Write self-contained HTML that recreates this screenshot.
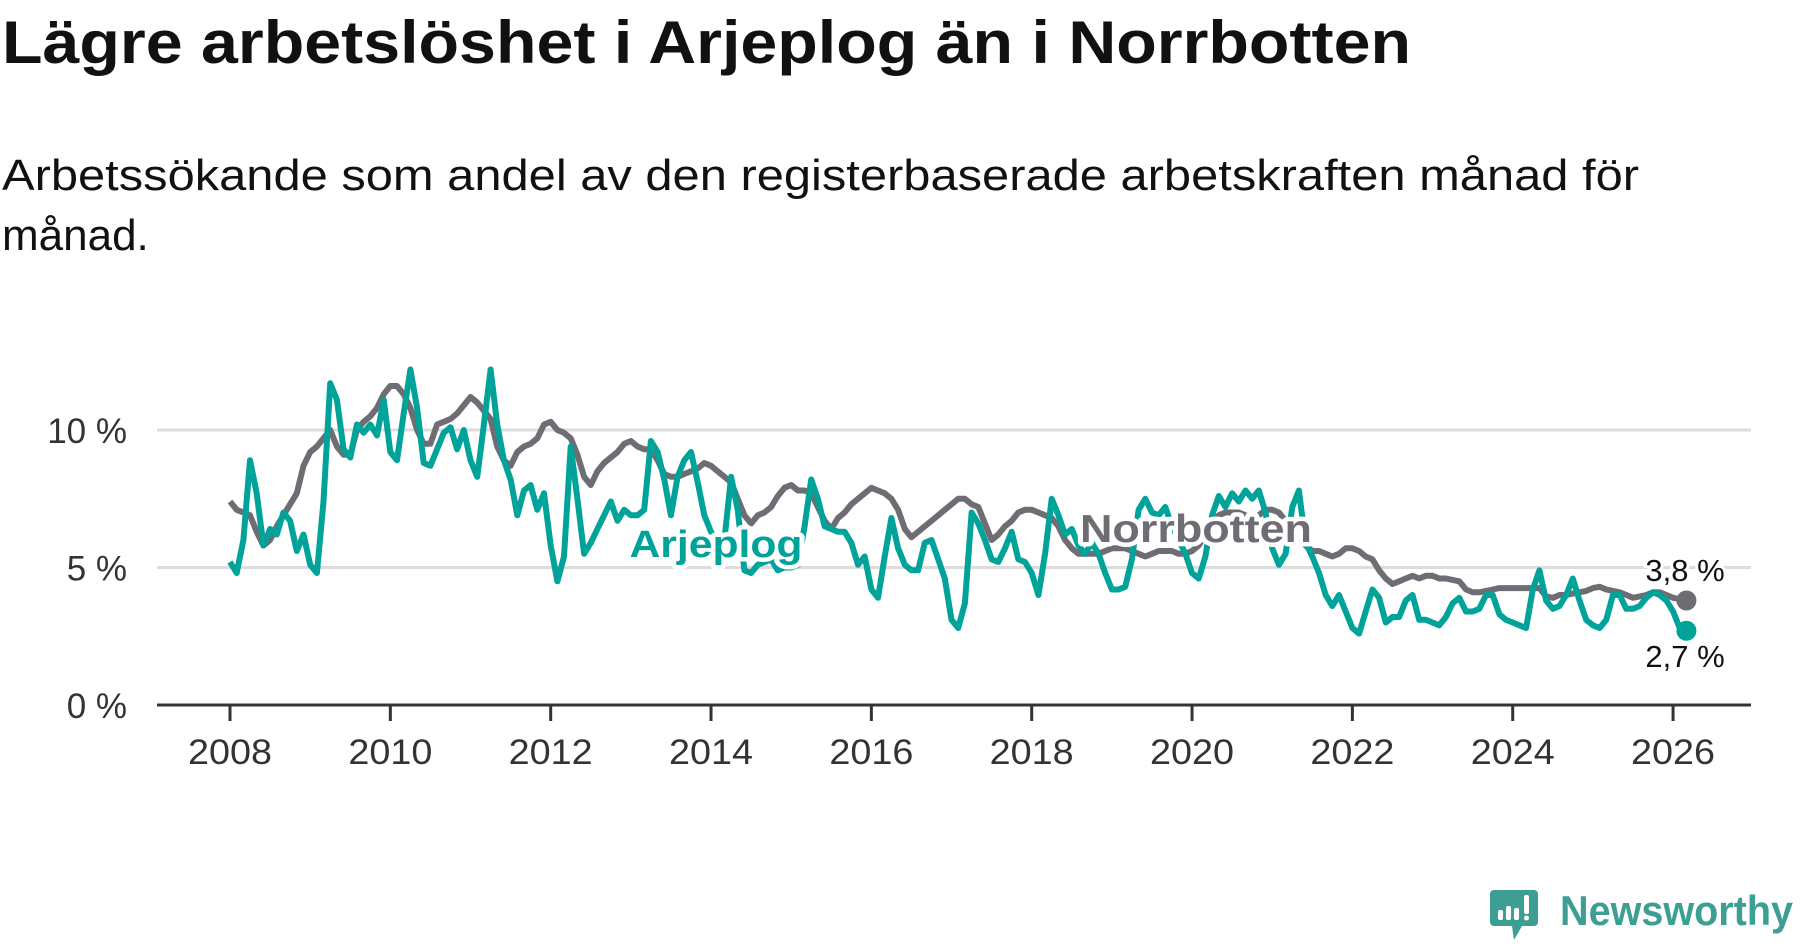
<!DOCTYPE html>
<html><head><meta charset="utf-8"><style>
html,body{margin:0;padding:0;background:#fff;}
svg{display:block;font-family:"Liberation Sans","DejaVu Sans",sans-serif;}
</style></head><body>
<svg id="chart" width="1800" height="948" viewBox="0 0 1800 948">
<text x="2" y="63" font-size="60" font-weight="bold" fill="#111" textLength="1409" lengthAdjust="spacingAndGlyphs">Lägre arbetslöshet i Arjeplog än i Norrbotten</text>
<text x="2" y="190" font-size="44" fill="#111" textLength="1637" lengthAdjust="spacingAndGlyphs">Arbetssökande som andel av den registerbaserade arbetskraften månad för</text>
<text x="2" y="250" font-size="44" fill="#111">månad.</text>
<g id="grid"></g>
<g id="yaxis"></g>
<g id="xaxis"></g>
<g id="series"></g>
<g id="labels"></g>
<g>
<path d="M1494 890 h40 a4 4 0 0 1 4 4 v28 a4 4 0 0 1 -4 4 h-12 l-8 14 l-2 -14 h-18 a4 4 0 0 1 -4 -4 v-28 a4 4 0 0 1 4 -4z" fill="#3d9e94"/>
<rect x="1498" y="910" width="5" height="10" rx="2" fill="#fff"/>
<rect x="1506" y="906" width="5" height="14" rx="2" fill="#fff"/>
<rect x="1514" y="908" width="5" height="12" rx="2" fill="#fff"/>
<rect x="1524" y="895" width="5" height="19" rx="2" fill="#fff"/>
<circle cx="1526.5" cy="918" r="2.5" fill="#fff"/>
<text x="1560" y="925" font-size="42" font-weight="bold" fill="#3d9e94" textLength="233" lengthAdjust="spacingAndGlyphs">Newsworthy</text>
</g>
</svg>
<script>
const yTicks = [0, 5, 10];
const yTickLabels = ["0 %", "5 %", "10 %"];
const xTicks = [2008, 2010, 2012, 2014, 2016, 2018, 2020, 2022, 2024, 2026];
const startYear = 2008;
const arjeplog = [5.2,4.8,6.0,8.9,7.7,5.8,6.4,6.2,7.0,6.7,5.6,6.2, 5.1,4.8,7.4,11.7,11.1,9.3,9.0,10.2,9.9,10.2,9.8,11.1, 9.2,8.9,10.6,12.2,10.8,8.8,8.7,9.3,9.9,10.1,9.3,10.0, 8.9,8.3,10.2,12.2,10.2,8.9,8.2,6.9,7.8,8.0,7.1,7.7, 5.8,4.5,5.4,9.4,7.5,5.5,5.9,6.4,6.9,7.4,6.7,7.1,
6.9,6.9,7.1,9.6,9.2,8.2,6.9,8.3,8.9,9.2,8.1,6.9, 6.3,5.8,6.0,8.3,7.1,4.9,4.8,5.1,5.2,5.3,4.9,5.0, 5.0,5.1,6.5,8.2,7.5,6.5,6.4,6.3,6.3,5.9,5.1,5.4, 4.2,3.9,5.4,6.8,5.7,5.1,4.9,4.9,5.9,6.0,5.3,4.6, 3.1,2.8,3.7,7.0,6.6,6.0,5.3,5.2,5.7,6.3,5.3,
5.2,4.8,4.0,5.5,7.5,6.9,6.2,6.4,5.8,5.5,5.9,5.5, 4.8,4.2,4.2,4.3,5.3,7.1,7.5,7.0,6.9,7.2,6.5,6.0, 5.5,4.8,4.6,5.4,6.9,7.6,7.2,7.7,7.4,7.8,7.5,7.8, 7.0,5.7,5.1,5.5,7.2,7.8,5.9,5.4,4.8,4.0,3.6,4.0, 3.4,2.8,2.6,3.4,4.2,3.9,3.0,3.2,3.2,3.8,4.0,3.1,
3.1,3.0,2.9,3.2,3.7,3.9,3.4,3.4,3.5,4.0,4.0,3.3, 3.1,3.0,2.9,2.8,4.2,4.9,3.8,3.5,3.6,4.0,4.6,3.8, 3.1,2.9,2.8,3.1,4.0,4.0,3.5,3.5,3.6,3.9,4.1,4.0, 3.8,3.4,2.8,2.7];
const norrbotten = [7.4,7.1,7.0,6.9,6.3,5.8,6.0,6.5,6.9,7.3,7.7,8.7, 9.2,9.4,9.7,10.0,9.4,9.1,9.1,10.0,10.3,10.5,10.8,11.3, 11.6,11.6,11.3,10.8,10.0,9.5,9.5,10.2,10.3,10.4,10.6,10.9, 11.2,11.0,10.7,10.4,9.4,8.9,8.7,9.2,9.4,9.5,9.7,10.2, 10.3,10.0,9.9,9.7,9.1,8.3,8.0,8.5,8.8,9.0,9.2,9.5,
9.6,9.4,9.3,9.3,8.9,8.4,8.3,8.3,8.4,8.5,8.6,8.8, 8.7,8.5,8.3,8.1,7.5,6.9,6.6,6.9,7.0,7.2,7.6,7.9, 8.0,7.8,7.8,7.7,7.2,6.7,6.4,6.8,7.0,7.3,7.5,7.7, 7.9,7.8,7.7,7.5,7.1,6.4,6.1,6.3,6.5,6.7,6.9,7.1, 7.3,7.5,7.5,7.3,7.2,6.6,6.0,6.2,6.5,6.7,7.0,
7.1,7.1,7.0,6.9,6.8,6.5,6.0,5.7,5.5,5.5,5.5,5.5, 5.6,5.7,5.7,5.7,5.6,5.5,5.4,5.5,5.6,5.6,5.6,5.5, 5.5,5.6,5.8,6.2,6.6,6.9,7.0,7.0,7.0,6.9,6.8,6.9, 7.1,7.1,7.0,6.7,6.4,6.1,5.8,5.6,5.6,5.5,5.4,5.5, 5.7,5.7,5.6,5.4,5.3,4.9,4.6,4.4,4.5,4.6,4.7,4.6,
4.7,4.7,4.6,4.6,4.55,4.5,4.2,4.1,4.1,4.15,4.2,4.25, 4.25,4.25,4.25,4.25,4.25,4.25,3.95,3.9,4.0,4.0,4.05,4.1, 4.15,4.25,4.3,4.2,4.15,4.1,4.0,3.9,3.95,4.0,4.1,4.1, 4.0,3.9,3.85,3.8];
const endLabels = ["3,8 %", "2,7 %"];

const NS = "http://www.w3.org/2000/svg";
const X0 = 230, PX_PER_YEAR = 80.17, Y0 = 705, PX_PER_PCT = 27.5;
const plotLeft = 157, plotRight = 1751;
function xScale(year){ return X0 + (year - 2008) * PX_PER_YEAR; }
function yScale(v){ return Y0 - v * PX_PER_PCT; }
function mk(tag, attrs, parent){ const e = document.createElementNS(NS, tag); for (const k in attrs) e.setAttribute(k, attrs[k]); parent.appendChild(e); return e; }

const grid = document.getElementById('grid');
const yaxis = document.getElementById('yaxis');
yTicks.forEach((t, i) => {
  if (t !== 0) {
    const l = mk('line', {x1: plotLeft, x2: plotRight, y1: yScale(t), y2: yScale(t), stroke: '#dcdcdc', 'stroke-width': 3}, grid);
    
    
  }
  const tx = mk('text', {x: 127, y: yScale(t) + 13, 'font-size': 35, fill: '#333', 'text-anchor': 'end'}, yaxis);
  tx.textContent = yTickLabels[i];
  
  
});
const xaxis = document.getElementById('xaxis');
const base = mk('line', {x1: plotLeft, x2: plotRight, y1: Y0, y2: Y0, stroke: '#333', 'stroke-width': 3}, xaxis);


xTicks.forEach(t => {
  const tk = mk('line', {x1: xScale(t), x2: xScale(t), y1: Y0, y2: Y0 + 16, stroke: '#333', 'stroke-width': 3}, xaxis);
  
  
  const tx = mk('text', {x: xScale(t), y: 764, 'font-size': 35, fill: '#333', 'text-anchor': 'middle', textLength: 84, lengthAdjust: 'spacingAndGlyphs'}, xaxis);
  tx.textContent = String(t);
  
  
});

const series = document.getElementById('series');
function pts(arr){ return arr.map((v, i) => xScale(startYear + i / 12).toFixed(1) + ',' + yScale(v).toFixed(1)).join(' '); }
const gl = mk('polyline', {points: pts(norrbotten), fill: 'none', stroke: '#6e6d73', 'stroke-width': 6, 'stroke-linejoin': 'round'}, series);


const tl = mk('polyline', {points: pts(arjeplog), fill: 'none', stroke: '#00a39a', 'stroke-width': 6, 'stroke-linejoin': 'round'}, series);


const nL = norrbotten.length - 1, aL = arjeplog.length - 1;
const gd = mk('circle', {cx: xScale(startYear + nL / 12), cy: yScale(norrbotten[nL]), r: 10, fill: '#6e6d73'}, series);


const td = mk('circle', {cx: xScale(startYear + aL / 12), cy: yScale(arjeplog[aL]), r: 10, fill: '#00a39a'}, series);



const labels = document.getElementById('labels');
const la = mk('text', {x: 716, y: 557, 'font-size': 38, 'font-weight': 'bold', fill: '#00a39a', 'text-anchor': 'middle', stroke: '#fff', 'stroke-width': 9, 'paint-order': 'stroke', 'stroke-linejoin': 'round', textLength: 173, lengthAdjust: 'spacingAndGlyphs'}, labels);
la.textContent = 'Arjeplog';


const ln = mk('text', {x: 1196, y: 542, 'font-size': 39, 'font-weight': 'bold', fill: '#6e6d73', 'text-anchor': 'middle', stroke: '#fff', 'stroke-width': 9, 'paint-order': 'stroke', 'stroke-linejoin': 'round', textLength: 232, lengthAdjust: 'spacingAndGlyphs'}, labels);
ln.textContent = 'Norrbotten';


const e1 = mk('text', {x: 1685, y: 581, 'font-size': 31, fill: '#111', 'text-anchor': 'middle', stroke: '#fff', 'stroke-width': 6, 'paint-order': 'stroke'}, labels);
e1.textContent = endLabels[0];


const e2 = mk('text', {x: 1685, y: 667, 'font-size': 31, fill: '#111', 'text-anchor': 'middle', stroke: '#fff', 'stroke-width': 6, 'paint-order': 'stroke'}, labels);
e2.textContent = endLabels[1];


</script>
</body></html>
